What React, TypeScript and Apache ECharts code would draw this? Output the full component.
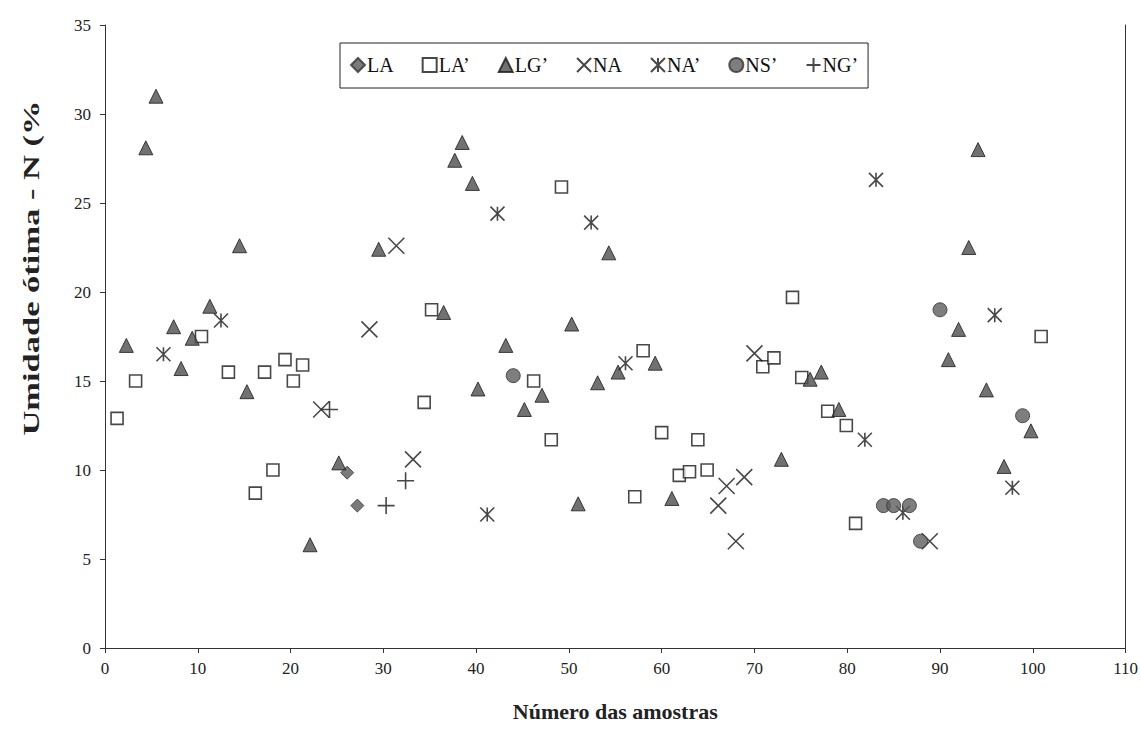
import React, { useEffect, useRef } from "react";
import * as echarts from "echarts";

const xTicks = [0, 10, 20, 30, 40, 50, 60, 70, 80, 90, 100, 110];
const yTicks = [0, 5, 10, 15, 20, 25, 30, 35];

const LA = [[26.1, 9.85], [27.2, 8.0]];
const LAp = [
  [1.3, 12.9], [3.3, 15.0], [10.4, 17.5], [13.3, 15.5], [16.2, 8.7], [17.2, 15.5], [18.1, 10.0],
  [19.4, 16.2], [20.3, 15.0], [21.3, 15.9], [34.4, 13.8], [35.2, 19.0], [46.2, 15.0], [48.1, 11.7],
  [49.2, 25.9], [57.1, 8.5], [58.0, 16.7], [60.0, 12.1], [61.9, 9.7], [63.0, 9.9], [63.9, 11.7],
  [64.9, 10.0], [70.9, 15.8], [72.1, 16.3], [74.1, 19.7], [75.1, 15.2], [77.9, 13.3], [79.9, 12.5],
  [80.9, 7.0], [100.9, 17.5],
];
const LGp = [
  [2.3, 17.0], [4.4, 28.1], [5.5, 31.0], [7.4, 18.05], [8.2, 15.7], [9.4, 17.4], [11.3, 19.2],
  [14.5, 22.6], [15.3, 14.4], [22.1, 5.8], [25.2, 10.4], [29.5, 22.4], [36.5, 18.85], [37.7, 27.4],
  [38.5, 28.4], [39.6, 26.1], [40.2, 14.55], [43.2, 17.0], [45.2, 13.4], [47.1, 14.2], [50.3, 18.2],
  [51.0, 8.1], [53.1, 14.9], [54.3, 22.2], [55.3, 15.5], [59.3, 16.0], [61.1, 8.4], [72.9, 10.6],
  [76.0, 15.1], [77.2, 15.5], [79.1, 13.4], [90.9, 16.2], [92.0, 17.9], [93.1, 22.5], [94.1, 28.0],
  [95.0, 14.5], [96.9, 10.2], [99.8, 12.2],
];
const NA = [
  [23.3, 13.4], [28.5, 17.9], [31.4, 22.6], [33.2, 10.6], [66.1, 8.0], [67.0, 9.1], [68.0, 6.0],
  [68.9, 9.6], [70.0, 16.55], [88.9, 6.0],
];
const NAp = [
  [6.3, 16.5], [12.5, 18.4], [41.2, 7.5], [42.3, 24.4], [52.4, 23.9], [56.1, 16.0], [81.9, 11.7],
  [83.1, 26.3], [86.0, 7.6], [95.9, 18.7], [97.8, 9.0],
];
const NSp = [
  [44.0, 15.3], [83.9, 8.0], [85.0, 8.0], [86.7, 8.0], [87.9, 6.0], [90.0, 19.0], [98.9, 13.05],
];
const NGp = [[24.2, 13.4], [30.3, 8.0], [32.4, 9.4]];

const FONT = "'Liberation Serif', 'DejaVu Serif', serif";
const X_PATH = "path://M0 0 L10 10 M10 0 L0 10";
const AST_PATH = "path://M0 0 L10 10 M10 0 L0 10 M5 0 L5 10";
const PLUS_PATH = "path://M5 0 L5 10 M0 5 L10 5";

export default function App() {
  const ref = useRef<HTMLDivElement>(null);
  useEffect(() => {
    if (!ref.current) return;
    const chart = echarts.init(ref.current, null, { renderer: "svg" });
    const lineItem = { color: "transparent", borderColor: "#1a1a1a", borderWidth: 1.6 };
    chart.setOption({
      animation: false,
      backgroundColor: "#ffffff",
      grid: { left: 105, right: 15, top: 25, bottom: 98, containLabel: false },
      legend: {
        left: 340,
        top: 43,
        width: 600,
        padding: [12, 10, 13, 10],
        itemGap: 28,
        itemWidth: 14,
        itemHeight: 14,
        borderColor: "#222",
        borderWidth: 1,
        textStyle: { fontFamily: FONT, fontSize: 20, color: "#111", padding: [0, 0, 0, -3] },
        data: ["LA", "LA’", "LG’", "NA", "NA’", "NS’", "NG’"],
      },
      xAxis: {
        type: "value",
        min: 0,
        max: 110,
        interval: 10,
        splitLine: { show: false },
        axisLine: { show: true, lineStyle: { color: "#333", width: 1 } },
        axisTick: { show: true, length: 5, lineStyle: { color: "#333" } },
        axisLabel: {
          fontFamily: FONT,
          fontSize: 17,
          color: "#222",
          margin: 12,
          customValues: xTicks,
        },
        name: "Número das amostras",
        nameLocation: "middle",
        nameGap: 52,
        nameTextStyle: { fontFamily: FONT, fontSize: 22, fontWeight: "bold", color: "#222" },
      },
      yAxis: [
        {
          type: "value",
          min: 0,
          max: 35,
          interval: 5,
          splitLine: { show: false },
          axisLine: { show: true, lineStyle: { color: "#333", width: 1 } },
          axisTick: { show: true, length: 5, lineStyle: { color: "#333" } },
          axisLabel: {
            fontFamily: FONT,
            fontSize: 17,
            color: "#222",
            margin: 14,
            customValues: yTicks,
          },
        },
        {
          type: "value",
          position: "right",
          min: 0,
          max: 35,
          interval: 5,
          splitLine: { show: false },
          axisLine: { show: true, lineStyle: { color: "#333", width: 1 } },
          axisTick: { show: false },
          axisLabel: { show: false },
        },
      ],
      graphic: [
        {
          type: "text",
          x: 31,
          y: 268,
          rotation: Math.PI / 2,
          scaleX: 1.5,
          style: {
            text: "Umidade ótima - N (%",
            fontFamily: FONT,
            fontSize: 23,
            fontWeight: "bold",
            fill: "#222",
            align: "center",
            verticalAlign: "middle",
          },
        },
      ],
      series: [
        {
          name: "LA",
          type: "scatter",
          data: LA,
          symbol: "diamond",
          symbolSize: 13,
          itemStyle: { color: "#5a5a5a", borderColor: "#333", borderWidth: 1 },
        },
        {
          name: "LA’",
          type: "scatter",
          data: LAp,
          symbol: "rect",
          symbolSize: 12,
          itemStyle: { color: "#ffffff", borderColor: "#1a1a1a", borderWidth: 1.6 },
        },
        {
          name: "LG’",
          type: "scatter",
          data: LGp,
          symbol: "triangle",
          symbolSize: 14,
          itemStyle: { color: "#4e4e4e", borderColor: "#1a1a1a", borderWidth: 1 },
        },
        {
          name: "NA",
          type: "scatter",
          data: NA,
          symbol: X_PATH,
          symbolSize: 16,
          itemStyle: lineItem,
        },
        {
          name: "NA’",
          type: "scatter",
          data: NAp,
          symbol: AST_PATH,
          symbolSize: 14,
          itemStyle: lineItem,
        },
        {
          name: "NS’",
          type: "scatter",
          data: NSp,
          symbol: "circle",
          symbolSize: 14,
          itemStyle: { color: "#5e5e5e", borderColor: "#333", borderWidth: 1 },
        },
        {
          name: "NG’",
          type: "scatter",
          data: NGp,
          symbol: PLUS_PATH,
          symbolSize: 17,
          itemStyle: lineItem,
        },
      ],
    });
    return () => chart.dispose();
  }, []);
  return (
    <div
      ref={ref}
      style={{ position: "absolute", left: 0, top: 0, width: 1141, height: 746 }}
    />
  );
}
